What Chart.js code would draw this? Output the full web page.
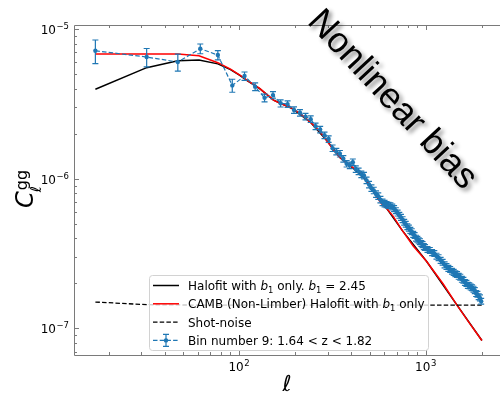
<!DOCTYPE html>
<html>
<head>
<meta charset="utf-8">
<script src="https://cdn.jsdelivr.net/npm/chart.js@4.4.1/dist/chart.umd.min.js"></script>
<style>
  html, body { margin: 0; padding: 0; background: #fff; overflow: hidden; }
  canvas { display: block; }
</style>
</head>
<body>
<canvas id="cl-chart" width="500" height="394"></canvas>
<script>
// -------------- data --------------
// measured bins (bin number 9): multipole centres
const binEll = [
  17, 32, 47, 62, 77, 92, 107, 122, 137, 152,
  167, 182, 197, 212, 227, 242, 257, 272, 287, 302,
  317, 332, 347, 362, 377, 392, 407, 422, 437, 452,
  467, 482, 497, 512, 527, 542, 557, 572, 587, 602,
  617, 632, 647, 662, 677, 692, 707, 722, 737, 752,
  767, 782, 797, 812, 827, 842, 857, 872, 887, 902,
  917, 932, 947, 962, 977, 992, 1022, 1052, 1082, 1112,
  1142, 1172, 1202, 1232, 1262, 1292, 1322, 1352, 1382, 1412,
  1442, 1472, 1502, 1532, 1562, 1592, 1622, 1652, 1682, 1712,
  1742, 1772, 1802, 1832, 1862, 1892, 1922, 1952, 1982
];
// measured C_ell^gg, in units of 1e-6
const binCl = [
  7.16, 6.50, 6.02, 7.39, 6.70, 4.20, 4.85, 4.12, 3.47, 3.62,
  3.19, 3.15, 2.88, 2.76, 2.60, 2.50, 2.24, 2.13, 1.95, 1.84,
  1.60, 1.52, 1.47, 1.36, 1.26, 1.23, 1.29, 1.16, 1.12, 1.07,
  1.05, 0.975, 0.915, 0.865, 0.835, 0.79, 0.765, 0.725, 0.695, 0.682,
  0.672, 0.664, 0.660, 0.648, 0.632, 0.612, 0.590, 0.570, 0.552, 0.533,
  0.512, 0.497, 0.478, 0.468, 0.452, 0.443, 0.425, 0.418, 0.401, 0.394,
  0.385, 0.380, 0.370, 0.363, 0.352, 0.347, 0.337, 0.332, 0.321, 0.317,
  0.304, 0.297, 0.285, 0.277, 0.266, 0.259, 0.252, 0.248, 0.241, 0.237,
  0.232, 0.229, 0.223, 0.220, 0.213, 0.210, 0.203, 0.200, 0.194, 0.193,
  0.189, 0.187, 0.183, 0.179, 0.171, 0.169, 0.163, 0.160, 0.152
];
// fractional 1-sigma errors on each bin
const binErr = [
  0.18, 0.14, 0.13, 0.075, 0.07, 0.10, 0.065, 0.06, 0.06, 0.055,
  0.055, 0.05, 0.05, 0.05, 0.05, 0.05, 0.05, 0.05, 0.05, 0.05,
  0.05, 0.05, 0.05, 0.05, 0.05, 0.05, 0.05, 0.05, 0.05, 0.05,
  0.05, 0.05, 0.05, 0.05, 0.05, 0.05, 0.05, 0.05, 0.05, 0.05,
  0.045, 0.045, 0.045, 0.045, 0.045, 0.045, 0.045, 0.045, 0.045, 0.045,
  0.045, 0.045, 0.045, 0.045, 0.045, 0.045, 0.045, 0.045, 0.045, 0.045,
  0.045, 0.045, 0.045, 0.045, 0.045, 0.045, 0.045, 0.045, 0.045, 0.045,
  0.045, 0.045, 0.045, 0.045, 0.045, 0.045, 0.045, 0.045, 0.045, 0.045,
  0.045, 0.045, 0.045, 0.045, 0.045, 0.045, 0.045, 0.045, 0.045, 0.045,
  0.045, 0.045, 0.045, 0.045, 0.045, 0.045, 0.045, 0.045, 0.045
];

// Halofit with b1 only (black)
const halofitEll = [17, 32, 47, 61, 77, 90, 101, 110, 129, 153, 190, 240, 295, 348, 410, 475, 545, 620, 750, 1012, 1465, 2000];
const halofitCl = [3.96e-6, 5.52e-6, 6.14e-6, 6.2e-6, 5.85e-6, 5.35e-6, 4.9e-6, 4.54e-6, 4.0e-6, 3.35e-6,
  2.97e-6, 2.40e-6, 1.80e-6, 1.38e-6, 1.17e-6, 9.9e-7, 7.7e-7, 6.3e-7, 4.5e-7, 2.8e-7, 1.44e-7, 8.3e-8];

// CAMB (Non-Limber) Halofit with b1 only (red)
const cambEll = [17, 47, 61, 77, 90, 101, 110, 129, 153, 166, 190, 212, 240, 272, 295, 320, 348, 378,
  410, 445, 475, 503, 545, 580, 620, 670, 750, 857, 1012, 1241, 1465, 1700, 2000];
const cambCl = [6.8e-6, 6.8e-6, 6.62e-6, 5.96e-6, 5.4e-6, 4.93e-6, 4.56e-6, 4.01e-6, 3.35e-6, 3.19e-6,
  2.98e-6, 2.73e-6, 2.40e-6, 2.06e-6, 1.80e-6, 1.56e-6, 1.38e-6, 1.27e-6, 1.18e-6, 1.10e-6,
  1.0e-6, 9.0e-7, 7.6e-7, 6.8e-7, 6.3e-7, 5.6e-7, 4.5e-7, 3.55e-7, 2.8e-7, 1.98e-7, 1.44e-7, 1.1e-7, 8.3e-8];

// shot noise (dashed black)
const shotEll = [17, 32, 62, 200, 2000];
const shotCl = [1.50e-7, 1.44e-7, 1.43e-7, 1.43e-7, 1.43e-7];

// tick labels
const xMajor = [100, 1000];
const yMajor = [1e-7, 1e-6, 1e-5];

// legend entries, split in runs: n = normal, i = math italic, s = subscript
const legendText = [
  [['Halofit with ', 'n'], ['b', 'i'], ['1', 's'], [' only. ', 'n'], ['b', 'i'], ['1', 's'], [' = 2.45', 'n']],
  [['CAMB (Non-Limber) Halofit with ', 'n'], ['b', 'i'], ['1', 's'], [' only', 'n']],
  [['Shot-noise', 'n']],
  [['Bin number 9: 1.64 < z < 1.82', 'n']]
];
const stampText = 'Nonlinear bias';

// -------------- helpers --------------
const FONT = '"DejaVu Sans", sans-serif';
const BLUE = '#1f77b4';

function pairs(xs, ys, scale) {
  return xs.map((v, i) => ({ x: v, y: ys[i] * (scale || 1) }));
}

function logTicks(min, max) {
  const out = [];
  for (let e = Math.floor(Math.log10(min)); e <= Math.ceil(Math.log10(max)); e++) {
    for (let m = 1; m <= 9; m++) {
      const v = m * Math.pow(10, e);
      if (v >= min && v <= max) out.push({ v: v, major: m === 1 });
    }
  }
  return out;
}

// "10" with a raised exponent, like matplotlib's log formatter
function drawPow(ctx, v, x, y, align) {
  const exp = Math.round(Math.log10(v));
  const base = '10';
  const sup = (exp < 0 ? '\u2212' : '') + Math.abs(exp);
  ctx.font = '12px ' + FONT;
  const wb = ctx.measureText(base).width;
  ctx.font = '8.5px ' + FONT;
  const ws = ctx.measureText(sup).width;
  const total = wb + ws + 0.5;
  let x0 = align === 'right' ? x - total : x - total / 2;
  ctx.textAlign = 'left';
  ctx.textBaseline = 'alphabetic';
  ctx.font = '12px ' + FONT;
  ctx.fillText(base, x0, y);
  ctx.font = '8.5px ' + FONT;
  ctx.fillText(sup, x0 + wb + 0.5, y - 5);
}

function drawRuns(ctx, runs, x, y, size) {
  let cx = x;
  runs.forEach(([t, kind]) => {
    if (kind === 'i') ctx.font = 'italic ' + size + 'px ' + FONT;
    else if (kind === 's') ctx.font = (size * 0.7) + 'px ' + FONT;
    else ctx.font = size + 'px ' + FONT;
    ctx.fillText(t, cx, kind === 's' ? y + 2.5 : y);
    cx += ctx.measureText(t).width;
  });
}

// -------------- custom drawing: error bars, frame, labels, legend --------------
const figurePlugin = {
  id: 'figure',
  beforeDatasetDraw(chart, args) {
    if (args.index !== 3) return;
    const { ctx, chartArea: a, scales: { x, y } } = chart;
    ctx.save();
    ctx.beginPath();
    ctx.rect(a.left, a.top, a.right - a.left, a.bottom - a.top);
    ctx.clip();
    ctx.strokeStyle = BLUE;
    ctx.lineWidth = 1.2;
    binEll.forEach((l, i) => {
      const c = binCl[i] * 1e-6;
      const px = x.getPixelForValue(l);
      const hi = y.getPixelForValue(c * (1 + binErr[i]));
      const lo = y.getPixelForValue(c * (1 - binErr[i]));
      ctx.beginPath();
      ctx.moveTo(px, lo); ctx.lineTo(px, hi);
      ctx.moveTo(px - 3, lo); ctx.lineTo(px + 3, lo);
      ctx.moveTo(px - 3, hi); ctx.lineTo(px + 3, hi);
      ctx.stroke();
    });
    ctx.restore();
  },
  afterDatasetsDraw(chart) {
    const { ctx, chartArea: a, scales: { x, y } } = chart;
    ctx.save();
    // frame (the right spine lies just outside the cropped picture)
    ctx.strokeStyle = '#7a7a7a';
    ctx.lineWidth = 1;
    ctx.beginPath();
    ctx.moveTo(a.right + 2, a.top + 0.5); ctx.lineTo(a.left + 0.5, a.top + 0.5);
    ctx.lineTo(a.left + 0.5, a.bottom + 0.5); ctx.lineTo(a.right + 2, a.bottom + 0.5);
    ctx.stroke();
    // inward ticks
    ctx.beginPath();
    logTicks(x.min, x.max).forEach(t => {
      const px = Math.round(x.getPixelForValue(t.v)) + 0.5;
      const len = t.major ? 5 : 3;
      ctx.moveTo(px, a.bottom); ctx.lineTo(px, a.bottom - len);
      ctx.moveTo(px, a.top); ctx.lineTo(px, a.top + len);
    });
    logTicks(y.min, y.max).forEach(t => {
      const py = Math.round(y.getPixelForValue(t.v)) + 0.5;
      const len = t.major ? 5 : 3;
      ctx.moveTo(a.left, py); ctx.lineTo(a.left + len, py);
    });
    ctx.stroke();

    // tick labels
    ctx.fillStyle = '#000';
    xMajor.forEach(v => drawPow(ctx, v, x.getPixelForValue(v), a.bottom + 16, 'center'));
    yMajor.forEach(v => drawPow(ctx, v, a.left - 5, y.getPixelForValue(v) + 5, 'right'));

    // axis titles
    ctx.font = '22px ' + FONT;
    ctx.textAlign = 'center';
    ctx.fillText('\u2113', 287, 391);
    ctx.save();
    ctx.translate(33, 208);
    ctx.rotate(-Math.PI / 2);
    ctx.textAlign = 'left';
    ctx.font = 'italic 24px ' + FONT;
    ctx.fillText('C', 0, 0);
    const cw = ctx.measureText('C').width;
    ctx.font = '16px ' + FONT;
    ctx.fillText('gg', cw + 1, -6);
    ctx.font = '15px ' + FONT;
    ctx.fillText('\u2113', cw - 1, 8);
    ctx.restore();

    // legend
    const bx = 149.5, by = 275.5, bw = 279, bh = 75;
    ctx.beginPath();
    ctx.roundRect(bx, by, bw, bh, 3);
    ctx.fillStyle = 'rgba(255,255,255,0.8)';
    ctx.fill();
    ctx.strokeStyle = '#d2d2d2';
    ctx.stroke();
    chart.data.datasets.forEach((ds, i) => {
      const cy = 285.5 + i * 18.3;
      ctx.strokeStyle = ds.borderColor;
      ctx.lineWidth = ds.borderWidth;
      ctx.setLineDash(ds.borderDash || []);
      ctx.beginPath();
      ctx.moveTo(153, cy); ctx.lineTo(179, cy);
      ctx.stroke();
      ctx.setLineDash([]);
      if (i === 3) {
        ctx.lineWidth = 1.2;
        ctx.beginPath();
        ctx.moveTo(166, cy - 6); ctx.lineTo(166, cy + 6);
        ctx.moveTo(163, cy - 6); ctx.lineTo(169, cy - 6);
        ctx.moveTo(163, cy + 6); ctx.lineTo(169, cy + 6);
        ctx.stroke();
        ctx.fillStyle = BLUE;
        ctx.beginPath();
        ctx.arc(166, cy, 2.2, 0, Math.PI * 2);
        ctx.fill();
      }
      ctx.fillStyle = '#000';
      ctx.textAlign = 'left';
      ctx.textBaseline = 'alphabetic';
      drawRuns(ctx, legendText[i], 188, cy + 4.5, 12);
    });

    // rotated stamp with a soft shadow
    ctx.save();
    ctx.translate(392, 100);
    ctx.rotate(47 * Math.PI / 180);
    ctx.font = '36px "Liberation Sans", Arial, sans-serif';
    ctx.textAlign = 'center';
    ctx.textBaseline = 'middle';
    ctx.shadowColor = 'rgba(0,0,0,0.45)';
    ctx.shadowBlur = 4;
    ctx.shadowOffsetX = 3;
    ctx.shadowOffsetY = 3;
    ctx.fillStyle = '#000';
    ctx.fillText(stampText, 0, 0);
    ctx.restore();
    ctx.restore();
  }
};

// -------------- Chart --------------
const clCanvas = document.getElementById('cl-chart');
const clChart = new Chart(clCanvas, {
  type: 'line',
  data: {
    datasets: [{
      label: 'Halofit with b1 only. b1 = 2.45',
      data: pairs(halofitEll, halofitCl),
      borderColor: '#000',
      borderWidth: 1.5,
      pointRadius: 0,
      order: 3
    }, {
      label: 'CAMB (Non-Limber) Halofit with b1 only',
      data: pairs(cambEll, cambCl),
      borderColor: '#ff0000',
      borderWidth: 1.5,
      pointRadius: 0,
      order: 2
    }, {
      label: 'Shot-noise',
      data: pairs(shotEll, shotCl),
      borderColor: '#000',
      borderWidth: 1.3,
      borderDash: [4.5, 2.2],
      pointRadius: 0,
      order: 1
    }, {
      label: 'Bin number 9: 1.64 < z < 1.82',
      data: pairs(binEll, binCl, 1e-6),
      borderColor: BLUE,
      borderWidth: 1.2,
      borderDash: [4.5, 2.2],
      pointRadius: 2.2,
      pointBackgroundColor: BLUE,
      pointBorderWidth: 0,
      order: 0
    }]
  },
  options: {
    responsive: false,
    animation: false,
    devicePixelRatio: 1,
    layout: { autoPadding: false, padding: { left: 0, right: 0, top: 25, bottom: 0 } },
    elements: { line: { tension: 0 } },
    plugins: {
      legend: { display: false },
      tooltip: { enabled: false }
    },
    scales: {
      x: {
        type: 'logarithmic',
        min: 13.06,
        max: 2500,
        grid: { display: false },
        border: { display: false },
        ticks: { display: false },
        afterFit: s => { s.height = 39; }
      },
      y: {
        type: 'logarithmic',
        min: 6.64e-8,
        max: 1.064e-5,
        grid: { display: false },
        border: { display: false },
        ticks: { display: false },
        afterFit: s => { s.width = 74; }
      }
    }
  },
  plugins: [figurePlugin]
});
</script>
</body>
</html>
